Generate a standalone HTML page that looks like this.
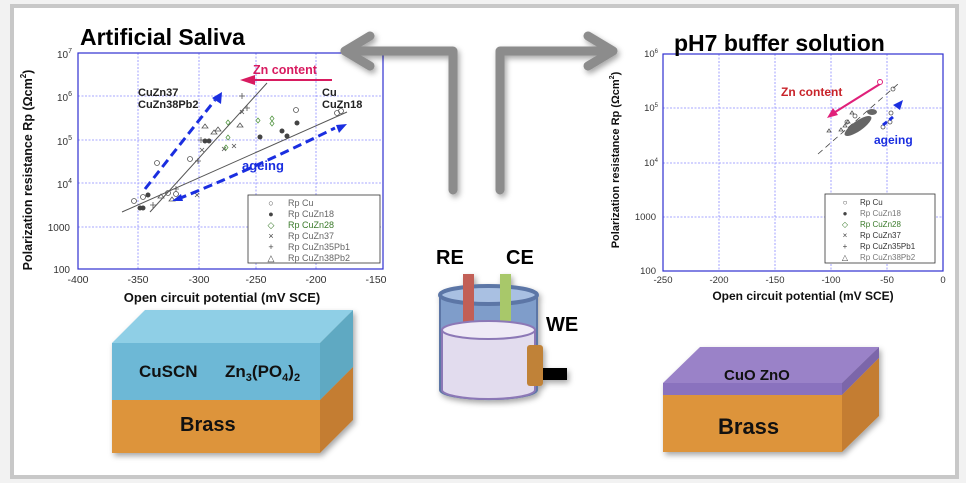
<!DOCTYPE html>
<html><head><meta charset="utf-8"><style>
html,body{margin:0;padding:0;background:#fff;}
svg{display:block;font-family:"Liberation Sans",sans-serif;}
</style></head><body>
<svg width="966" height="483" viewBox="0 0 966 483" xmlns="http://www.w3.org/2000/svg">
<defs>
<filter id="sh" x="-10%" y="-10%" width="130%" height="130%"><feDropShadow dx="2" dy="3" stdDeviation="3" flood-color="#000" flood-opacity="0.35"/></filter>
</defs>
<rect x="0" y="0" width="966" height="483" fill="#f2f2f2"/>
<rect x="12" y="6" width="945" height="471" fill="#fff" stroke="#c8c8c8" stroke-width="4"/>

<!-- LEFT PLOT -->
<g stroke="#8a8aff" stroke-width="0.8" stroke-dasharray="2,1.5">
<line x1="78" y1="96" x2="383" y2="96"/><line x1="78" y1="140" x2="383" y2="140"/><line x1="78" y1="183" x2="383" y2="183"/><line x1="78" y1="227" x2="383" y2="227"/>
<line x1="138" y1="53" x2="138" y2="269"/><line x1="199" y1="53" x2="199" y2="269"/><line x1="256" y1="53" x2="256" y2="269"/><line x1="316" y1="53" x2="316" y2="269"/>
</g>
<rect x="78" y="53" width="305" height="216" fill="none" stroke="#3030d0" stroke-width="1.2"/>
<g font-size="10" fill="#333" text-anchor="end">
<text x="72" y="58">10<tspan font-size="7" dy="-5">7</tspan></text>
<text x="72" y="101">10<tspan font-size="7" dy="-5">6</tspan></text>
<text x="72" y="145">10<tspan font-size="7" dy="-5">5</tspan></text>
<text x="72" y="188">10<tspan font-size="7" dy="-5">4</tspan></text>
<text x="70" y="231">1000</text>
<text x="70" y="273">100</text>
</g>
<g font-size="10.5" fill="#333" text-anchor="middle">
<text x="78" y="283">-400</text><text x="138" y="283">-350</text><text x="199" y="283">-300</text><text x="256" y="283">-250</text><text x="316" y="283">-200</text><text x="376" y="283">-150</text>
</g>
<text x="222" y="302" font-size="13" font-weight="bold" text-anchor="middle" fill="#111">Open circuit potential (mV SCE)</text>
<text transform="translate(32,170) rotate(-90)" font-size="12.5" font-weight="bold" text-anchor="middle" fill="#111">Polarization resistance Rp (Ωcm<tspan font-size="8" dy="-6">2</tspan><tspan dy="6">)</tspan></text>
<text x="80" y="45" font-size="23" font-weight="bold" fill="#000">Artificial Saliva</text>
<g stroke="#555" stroke-width="1"><line x1="122" y1="212" x2="347" y2="112"/><line x1="150" y1="212" x2="267" y2="83"/></g>
<g fill="none" stroke="#555" stroke-width="0.8">
<circle cx="134" cy="201" r="2.5"/><circle cx="143" cy="197" r="2.5"/><circle cx="157" cy="163" r="2.5"/><circle cx="190" cy="159" r="2.5"/><circle cx="296" cy="110" r="2.5"/><circle cx="337" cy="113" r="2.5"/><circle cx="341" cy="111" r="2.5"/><circle cx="168" cy="193" r="2.5"/><circle cx="176" cy="194" r="2.5"/>
<path d="M205 124l3 4h-6z M214 130l3 4h-6z M218 127l3 4h-6z M240 123l3 4h-6z M161 194l3 4h-6z M172 197l3 4h-6z"/>
<path d="M200 148l4 4M204 148l-4 4M222 147l4 4M226 147l-4 4M240 110l4 4M244 110l-4 4M232 144l4 4M236 144l-4 4M195 193l4 4M199 193l-4 4"/>
<path d="M150 205h6M153 202v6M198 140h6M201 137v6M239 96h6M242 93v6M244 108h6M247 105v6M173 189h6M176 186v6M195 161h6M198 158v6"/>
</g>
<g fill="#444"><circle cx="140" cy="208" r="2.5"/><circle cx="143" cy="208" r="2.5"/><circle cx="148" cy="195" r="2.5"/><circle cx="205" cy="141" r="2.5"/><circle cx="209" cy="141" r="2.5"/><circle cx="260" cy="137" r="2.5"/><circle cx="282" cy="131" r="2.5"/><circle cx="287" cy="136" r="2.5"/><circle cx="297" cy="123" r="2.5"/></g>
<g fill="none" stroke="#5a9a4a" stroke-width="0.8"><path d="M228 120l2 2.5-2 2.5-2-2.5z M228 135l2 2.5-2 2.5-2-2.5z M258 118l2 2.5-2 2.5-2-2.5z M272 116l2 2.5-2 2.5-2-2.5z M272 121l2 2.5-2 2.5-2-2.5z M226 145l2 2.5-2 2.5-2-2.5z"/></g>
<line x1="254" y1="80" x2="332" y2="80" stroke="#d81b60" stroke-width="2"/>
<path d="M240 80l15-5v10z" fill="#d81b60"/>
<text x="253" y="74" font-size="12.5" font-weight="bold" fill="#d81b60">Zn content</text>
<text x="138" y="96" font-size="11" font-weight="bold" fill="#222">CuZn37</text>
<text x="138" y="108" font-size="11" font-weight="bold" fill="#222">CuZn38Pb2</text>
<text x="322" y="96" font-size="11" font-weight="bold" fill="#222">Cu</text>
<text x="322" y="108" font-size="11" font-weight="bold" fill="#222">CuZn18</text>
<g stroke="#1a2ee0" stroke-width="3" stroke-dasharray="9,5" fill="none"><path d="M145 189L215 100"/><path d="M178 199Q250 170 335 128"/></g>
<path d="M222 92l-1 12-9-6z" fill="#1a2ee0"/><path d="M347 124l-11 1 3 8z" fill="#1a2ee0"/><path d="M172 201l9-7 2 7z" fill="#1a2ee0"/>
<text x="242" y="170" font-size="13" font-weight="bold" fill="#1a2ee0">ageing</text>
<rect x="248" y="195" width="132" height="68" fill="#fff" stroke="#333" stroke-width="0.8"/>
<g font-size="9" fill="#666"><text x="288" y="206">Rp Cu</text><text x="288" y="217">Rp CuZn18</text><text x="288" y="228" fill="#3a7a2a">Rp CuZn28</text><text x="288" y="239">Rp CuZn37</text><text x="288" y="250">Rp CuZn35Pb1</text><text x="288" y="261">Rp CuZn38Pb2</text></g>
<g font-size="9" fill="#444" text-anchor="middle"><text x="271" y="206">○</text><text x="271" y="217">●</text><text x="271" y="228" fill="#3a7a2a">◇</text><text x="271" y="239">×</text><text x="271" y="250">+</text><text x="271" y="261">△</text></g>

<!-- RIGHT PLOT -->
<g stroke="#8a8aff" stroke-width="0.8" stroke-dasharray="2,1.5">
<line x1="663" y1="108" x2="943" y2="108"/><line x1="663" y1="163" x2="943" y2="163"/><line x1="663" y1="217" x2="943" y2="217"/>
<line x1="719" y1="54" x2="719" y2="271"/><line x1="775" y1="54" x2="775" y2="271"/><line x1="831" y1="54" x2="831" y2="271"/><line x1="887" y1="54" x2="887" y2="271"/>
</g>
<rect x="663" y="54" width="280" height="217" fill="none" stroke="#3030d0" stroke-width="1.2"/>
<g font-size="9.5" fill="#333" text-anchor="end">
<text x="658" y="57">10<tspan font-size="6" dy="-4">6</tspan></text>
<text x="658" y="111">10<tspan font-size="6" dy="-4">5</tspan></text>
<text x="658" y="166">10<tspan font-size="6" dy="-4">4</tspan></text>
<text x="656" y="220">1000</text>
<text x="656" y="274">100</text>
</g>
<g font-size="9.5" fill="#333" text-anchor="middle">
<text x="663" y="283">-250</text><text x="719" y="283">-200</text><text x="775" y="283">-150</text><text x="831" y="283">-100</text><text x="887" y="283">-50</text><text x="943" y="283">0</text>
</g>
<text x="803" y="300" font-size="12" font-weight="bold" text-anchor="middle" fill="#111">Open circuit potential  (mV SCE)</text>
<text transform="translate(619,160) rotate(-90)" font-size="11" font-weight="bold" text-anchor="middle" fill="#111">Polarization resistance Rp (Ωcm<tspan font-size="7" dy="-5">2</tspan><tspan dy="5">)</tspan></text>
<text x="674" y="51" font-size="23" font-weight="bold" fill="#000">pH7 buffer solution</text>
<line x1="818" y1="154" x2="898" y2="84" stroke="#444" stroke-width="0.8" stroke-dasharray="6,4"/>
<g fill="#666"><ellipse cx="858" cy="126" rx="16" ry="5" transform="rotate(-35 858 126)"/><ellipse cx="872" cy="112" rx="5" ry="3"/></g>
<g fill="none" stroke="#555" stroke-width="0.8"><circle cx="893" cy="89" r="2"/><circle cx="891" cy="113" r="2"/><circle cx="883" cy="127" r="2"/><circle cx="890" cy="122" r="2"/><circle cx="847" cy="122" r="2"/><circle cx="855" cy="116" r="2"/>
<path d="M848 120l2 3h-4z M845 124l2 3h-4z M852 111l2 3h-4z M841 128l2 3h-4z M829 129l2 3h-4z"/></g>
<line x1="880" y1="84" x2="832" y2="114" stroke="#e0207a" stroke-width="2.2"/>
<path d="M827 118l6-10 5 7z" fill="#e0207a"/>
<circle cx="880" cy="82" r="2.5" fill="#fff" stroke="#e0207a"/>
<text x="781" y="96" font-size="12" font-weight="bold" fill="#c8232a">Zn content</text>
<path d="M883 125l10-8" stroke="#1a2ee0" stroke-width="3" stroke-dasharray="5,3"/>
<path d="M903 100l-3 10-7-5z" fill="#1a2ee0"/>
<text x="874" y="144" font-size="12" font-weight="bold" fill="#1a2ee0">ageing</text>
<rect x="825" y="194" width="110" height="69" fill="#fff" stroke="#333" stroke-width="0.8"/>
<g font-size="8" fill="#333"><text x="860" y="205">Rp Cu</text><text x="860" y="216" fill="#777">Rp CuZn18</text><text x="860" y="227" fill="#3a7a2a">Rp CuZn28</text><text x="860" y="238">Rp CuZn37</text><text x="860" y="249">Rp CuZn35Pb1</text><text x="860" y="260" fill="#777">Rp CuZn38Pb2</text></g>
<g font-size="8" fill="#444" text-anchor="middle"><text x="845" y="205">○</text><text x="845" y="216">●</text><text x="845" y="227" fill="#3a7a2a">◇</text><text x="845" y="238">×</text><text x="845" y="249">+</text><text x="845" y="260">△</text></g>

<!-- gray arrows -->
<g stroke="#8c8c8c" stroke-width="9" fill="none" stroke-linejoin="round" stroke-linecap="round" filter="url(#sh)">
<path d="M453 190V51H345"/><path d="M370 36L345 51L370 66"/>
<path d="M500 190V51H612"/><path d="M588 36L613 51L588 66"/>
</g>

<!-- blocks -->
<g filter="url(#sh)">
<path d="M112 343L145 310H353L320 343Z" fill="#8fcfe6"/>
<path d="M320 343L353 310V367L320 400Z" fill="#5fa9c2"/>
<rect x="112" y="343" width="208" height="57" fill="#6db8d6"/>
<path d="M320 400L353 367V420L320 453Z" fill="#c47d30"/>
<rect x="112" y="400" width="208" height="53" fill="#dd943a"/>
</g>
<text x="139" y="377" font-size="17" font-weight="bold" fill="#111">CuSCN</text>
<text x="225" y="377" font-size="17" font-weight="bold" fill="#111">Zn<tspan font-size="11" dy="4">3</tspan><tspan dy="-4">(PO</tspan><tspan font-size="11" dy="4">4</tspan><tspan dy="-4">)</tspan><tspan font-size="11" dy="4">2</tspan></text>
<text x="180" y="431" font-size="20" font-weight="bold" fill="#111">Brass</text>

<g filter="url(#sh)">
<path d="M663 383L700 347H879L842 383Z" fill="#9a82c8"/>
<path d="M842 383L879 347V358L842 395Z" fill="#7c66aa"/>
<rect x="663" y="383" width="179" height="12" fill="#8a72be"/>
<path d="M842 395L879 358V416L842 452Z" fill="#c47d30"/>
<rect x="663" y="395" width="179" height="57" fill="#dd943a"/>
</g>
<text x="724" y="380" font-size="15" font-weight="bold" fill="#111">CuO ZnO</text>
<text x="718" y="434" font-size="22" font-weight="bold" fill="#111">Brass</text>

<!-- cell -->
<text x="436" y="264" font-size="20" font-weight="bold" fill="#000">RE</text>
<text x="506" y="264" font-size="20" font-weight="bold" fill="#000">CE</text>
<text x="546" y="331" font-size="20" font-weight="bold" fill="#000">WE</text>
<g filter="url(#sh)">
<path d="M440 295V390A48 9 0 0 0 537 390V295Z" fill="#7f9dca" stroke="#5b76a6" stroke-width="2"/>
<ellipse cx="488.5" cy="295" rx="48.5" ry="9" fill="#a9c0e2" stroke="#5b76a6" stroke-width="4"/>
<rect x="463" y="274" width="11" height="50" fill="#c25e57"/>
<rect x="500" y="274" width="11" height="50" fill="#a8c86a"/>
<path d="M442 330V390A46.5 9 0 0 0 535 390V330Z" fill="#e2dcee" stroke="#8c78b6" stroke-width="2"/>
<ellipse cx="488.5" cy="330" rx="46.5" ry="9" fill="#efeaf6" stroke="#8c78b6" stroke-width="2"/>
<rect x="543" y="368" width="24" height="12" fill="#000"/>
<rect x="527" y="345" width="16" height="41" rx="3" fill="#c08238"/>
</g>
</svg>
</body></html>
